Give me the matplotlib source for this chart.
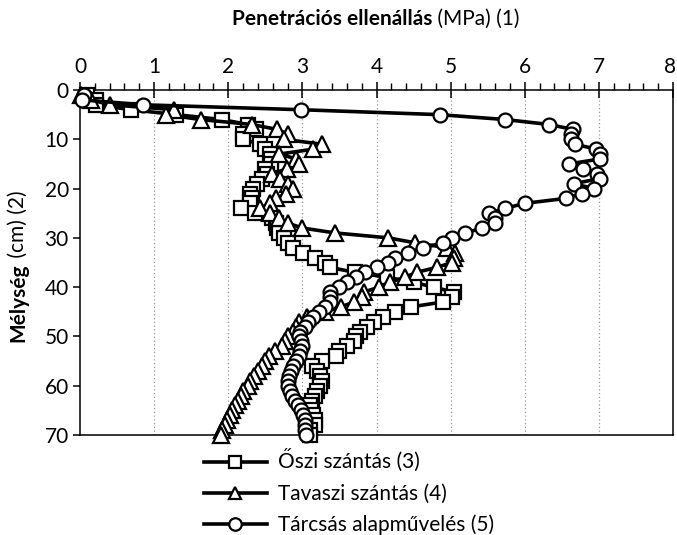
import matplotlib
matplotlib.use("Agg")
import matplotlib.pyplot as plt
from matplotlib.ticker import MultipleLocator, FuncFormatter

plt.rcParams['font.family'] = ['Lato', 'DejaVu Sans']

depth = list(range(1, 71))

oszi = [0.09, 0.22, 0.22, 0.69, 1.30, 1.91, 2.27, 2.38, 2.20, 2.20,
        2.43, 2.50, 2.56, 2.57, 2.58, 2.50, 2.52, 2.45, 2.39, 2.34,
        2.29, 2.32, 2.30, 2.17, 2.36, 2.59, 2.65, 2.66, 2.68, 2.75,
        2.80, 2.88, 3.01, 3.17, 3.30, 3.37, 3.71, 4.14, 4.50, 4.77,
        5.04, 5.02, 4.90, 4.47, 4.25, 4.09, 3.96, 3.87, 3.78, 3.72,
        3.69, 3.60, 3.50, 3.46, 3.26, 3.13, 3.20, 3.24, 3.26, 3.24,
        3.20, 3.17, 3.13, 3.10, 3.12, 3.15, 3.17, 3.17, 3.10, 3.10]

tavaszi = [0.02, 0.15, 0.41, 1.27, 1.16, 1.63, 2.32, 2.66, 2.80, 2.75,
           3.26, 3.15, 2.69, 2.92, 2.95, 2.79, 2.59, 2.70, 2.80, 2.88,
           2.78, 2.65, 2.56, 2.43, 2.56, 2.69, 2.80, 3.00, 3.44, 4.16,
           4.52, 4.95, 5.06, 5.05, 5.02, 4.81, 4.54, 4.39, 4.18, 4.03,
           3.83, 3.81, 3.70, 3.52, 3.30, 3.06, 2.95, 2.92, 2.88, 2.80,
           2.77, 2.72, 2.63, 2.55, 2.50, 2.45, 2.40, 2.35, 2.30, 2.27,
           2.20, 2.17, 2.13, 2.09, 2.05, 2.02, 1.98, 1.95, 1.91, 1.90]

tarcsas = [0.05, 0.03, 0.85, 2.98, 4.85, 5.74, 6.33, 6.65, 6.63, 6.63,
           6.68, 6.96, 7.01, 7.01, 6.60, 6.79, 6.98, 7.01, 6.66, 6.93,
           6.77, 6.55, 6.00, 5.74, 5.52, 5.60, 5.60, 5.43, 5.20, 5.02,
           4.90, 4.63, 4.43, 4.25, 4.15, 4.00, 3.85, 3.72, 3.60, 3.49,
           3.37, 3.37, 3.37, 3.30, 3.22, 3.15, 3.08, 3.03, 2.97, 2.95,
           2.98, 3.00, 2.97, 2.95, 2.92, 2.88, 2.84, 2.82, 2.81, 2.81,
           2.83, 2.86, 2.90, 2.94, 2.98, 3.01, 3.03, 3.04, 3.04, 3.05]

labels = ['Őszi szántás (3)', 'Tavaszi szántás (4)', 'Tárcsás alapművelés (5)']
markers = ['s', '^', 'o']
XMAX = 8

FS = 15
W, H = 677, 535
fig = plt.figure(figsize=(W / 100, H / 100), dpi=100)
ax = fig.add_axes([80 / W, (H - 435) / H, 593 / W, 345 / H])

handles = []
for vals, mk, lab in zip([oszi, tavaszi, tarcsas], markers, labels):
    h, = ax.plot(vals, depth, color='black', lw=2.6, marker=mk, ms=10 if mk != '^' else 11,
                 mfc='white', mec='black', mew=1.6, label=lab, clip_on=False, zorder=3)
    handles.append(h)

ax.set_xlim(0, XMAX)
ax.set_ylim(70, 0)
ax.xaxis.tick_top()
ax.xaxis.set_major_locator(MultipleLocator(1))
ax.xaxis.set_minor_locator(MultipleLocator(0.2))
# last label is drawn separately so that it stays inside the canvas
ax.xaxis.set_major_formatter(FuncFormatter(lambda v, p: '' if abs(v - XMAX) < 1e-9 else f'{v:.0f}'))
ax.yaxis.set_major_locator(MultipleLocator(10))
ax.tick_params(axis='x', which='major', direction='inout', length=11, width=1.1,
               labelsize=FS, pad=4)
ax.tick_params(axis='x', which='minor', direction='out', length=5, width=1.0)
ax.tick_params(axis='y', which='major', direction='out', length=5, width=1.1,
               labelsize=FS, pad=3)
ax.annotate(f'{XMAX}', xy=(XMAX, 1), xycoords=('data', 'axes fraction'),
            xytext=(2.5, 9.5), textcoords='offset points', ha='right', va='bottom',
            fontsize=FS, annotation_clip=False)
for s in ax.spines.values():
    s.set_linewidth(1.1)
for xv in range(1, 8):
    ax.axvline(xv, color='#999999', lw=0.9, ls=(0, (1, 2)), zorder=1)

leg = fig.legend(handles=handles, loc='upper left', bbox_to_anchor=(204 / W, 1 - 450 / H),
                 frameon=False, fontsize=FS, handlelength=3.0, handletextpad=0.55,
                 labelspacing=0.52, borderaxespad=0, borderpad=0)
for lh in leg.legend_handles:
    lh.set_markersize(9)

fig.canvas.draw()
rend = fig.canvas.get_renderer()

# title with mixed weights
t1 = fig.text(0, 0, 'Penetrációs ellenállás', fontsize=FS, fontweight='bold')
t2 = fig.text(0, 0, ' (MPa) (1)', fontsize=FS)
w1 = t1.get_window_extent(rend).width
w2 = t2.get_window_extent(rend).width
cx = 376
y_t = H - 25
x0 = cx - (w1 + w2) / 2
t1.set_position((x0 / W, y_t / H))
t2.set_position(((x0 + w1) / W, y_t / H))

# y label with mixed weights
y1 = fig.text(0, 0, 'Mélység', fontsize=FS, fontweight='bold', rotation=90)
y2 = fig.text(0, 0, ' (cm) (2)', fontsize=FS, rotation=90)
h1 = y1.get_window_extent(rend).height
h2 = y2.get_window_extent(rend).height
cy = H - 262
yy0 = cy - (h1 + h2) / 2
xl = 8
y1.set_position((xl / W, yy0 / H))
y2.set_position((xl / W, (yy0 + h1) / H))

fig.savefig('out.png', dpi=100)
